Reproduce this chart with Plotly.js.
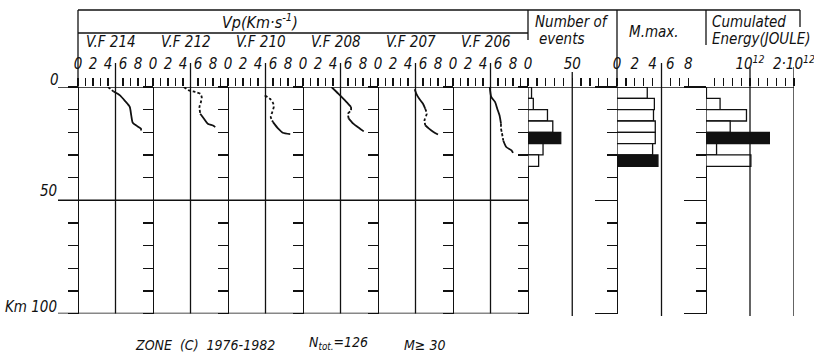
<!DOCTYPE html>
<html><head><meta charset="utf-8">
<script src="https://cdn.plot.ly/plotly-3.0.1.min.js"></script>
<style>html,body{margin:0;padding:0;background:#fff}#chart{width:814px;height:357px}</style>
</head><body><div id="chart"></div>
<script>
// ---------- DATA ----------
const stations = ['V.F 214','V.F 212','V.F 210','V.F 208','V.F 207','V.F 206'];
// Vp (km/s) against depth (km); dash flag per segment (1 = dashed)
const vf214_v = [4.0, 4.7, 5.6, 6.3, 6.9, 7.1, 7.3, 7.9, 8.4, 8.4];
const vf214_d = [0, 1.9, 3.7, 6.3, 8.8, 12.5, 15.8, 17.3, 18.4, 19.2];
const vf214_dash = [1, 0, 0, 0, 0, 0, 0, 0, 0];
const vf212_v = [4.1, 4.8, 5.6, 6.3, 6.5, 6.4, 6.2, 6.3, 6.8, 7.3, 8.0, 8.3];
const vf212_d = [0, 1.5, 2.2, 3.0, 4.5, 6.5, 8.8, 11.8, 14.0, 16.2, 17.0, 17.7];
const vf212_dash = [1, 1, 1, 1, 1, 1, 1, 0, 0, 0, 0];
const vf210_v = [4.9, 5.6, 6.0, 6.1, 5.9, 5.7, 6.0, 6.7, 7.3, 8.3];
const vf210_d = [3.7, 5.2, 7.0, 8.8, 11.1, 13.3, 15.5, 18.4, 20.2, 20.8];
const vf210_dash = [1, 1, 1, 1, 1, 1, 0, 0, 0];
const vf208_v = [3.8, 4.7, 5.6, 6.4, 6.4, 6.0, 6.1, 6.7, 7.6, 8.1];
const vf208_d = [0, 2.9, 5.9, 8.8, 10.3, 11.8, 14.0, 16.2, 18.4, 19.6];
const vf208_dash = [0, 0, 0, 1, 1, 1, 0, 0, 0];
const vf207_v = [4.9, 5.1, 5.5, 6.0, 6.3, 6.5, 6.2, 6.3, 6.8, 7.4, 8.0];
const vf207_d = [1.0, 2.9, 5.2, 7.4, 9.6, 11.8, 14.7, 16.9, 18.4, 19.9, 21.0];
const vf207_dash = [0, 0, 0, 0, 1, 1, 1, 0, 0, 0];
const vf206_v = [4.9, 5.1, 5.6, 5.9, 6.2, 6.4, 6.4, 6.5, 6.7, 7.1, 7.8, 8.0];
const vf206_d = [0, 4.4, 6.6, 9.6, 12.5, 16.2, 18.4, 19.9, 23.6, 26.5, 28.0, 29.1];
const vf206_dash = [0, 0, 0, 0, 0, 1, 1, 1, 0, 0, 0];

// histograms per 5 km depth bin
const binTop = [0, 5, 10, 15, 20, 25, 30];
const binWidth = 5;
const events = [4, 6, 22, 28, 37, 17, 12];
const mMax = [3.4, 4.2, 4.1, 4.3, 4.3, 4.0, 4.6];
const energy = [0.01e12, 0.32e12, 0.92e12, 0.55e12, 1.44e12, 0.24e12, 1.02e12];

// tick labels
const vpTicks = [0, 2, 4, 6, 8];
const vpMinor = [1, 3, 5, 7, 9];
const evTicks = [0, 50];
const evMinor = [10, 20, 30, 40, 60, 70, 80, 90];
const mTicks = [0, 2, 4, 6, 8];
const mMinor = [1, 3, 7];
const eTicks = [1e12, 2e12];
const eTickText = ['10<sup>12</sup>', '2·10<sup>12</sup>'];
const eMinor = [0.2e12, 0.4e12, 0.6e12, 0.8e12, 1.2e12, 1.4e12, 1.6e12, 1.8e12];

// ---------- LAYOUT GEOMETRY ----------
const W = 814, H = 357;
const px = x => x / W, py = y => 1 - y / H;
const colX = [78, 153, 228, 303, 378, 453], colW = 75;
const evDom = [528, 616.5], mDom = [617, 706], eDom = [706, 794];
const yTop = 87, yBot = 313.5;
const INK = '#111';
const FONT = '"Liberation Sans Narrow", "DejaVu Sans Condensed", "Liberation Sans", Arial, sans-serif';

const profiles = [
  [vf214_v, vf214_d, vf214_dash], [vf212_v, vf212_d, vf212_dash], [vf210_v, vf210_d, vf210_dash],
  [vf208_v, vf208_d, vf208_dash], [vf207_v, vf207_d, vf207_dash], [vf206_v, vf206_d, vf206_dash]
];

const traces = [];
const ax = i => (i === 0 ? 'x' : 'x' + (i + 1));
profiles.forEach(([v, d, dash], i) => {
  let s = 0;
  while (s < dash.length) {
    let e = s;
    while (e + 1 < dash.length && dash[e + 1] === dash[s]) e++;
    traces.push({
      type: 'scatter', mode: 'lines', x: v.slice(s, e + 2), y: d.slice(s, e + 2),
      xaxis: ax(i), yaxis: 'y', hoverinfo: 'skip',
      line: {color: INK, width: 1.8, dash: dash[s] ? '3px,2px' : 'solid', shape: 'spline', smoothing: 0.6}
    });
    s = e + 1;
  }
});

const centers = binTop.map(t => t + binWidth / 2);
function hist(vals, xa) {
  const mx = Math.max(...vals);
  return {
    type: 'bar', orientation: 'h', x: vals, y: centers, width: binWidth, base: 0,
    xaxis: xa, yaxis: 'y', hoverinfo: 'skip',
    marker: {color: vals.map(v => v === mx ? INK : '#fff'), line: {color: INK, width: 1.3}}
  };
}
traces.push(hist(events, 'x7'), hist(mMax, 'x8'), hist(energy, 'x9'));

// empty traces that attach the extra tick axes
for (let k = 2; k <= 9; k++) traces.push({type: 'scatter', x: [], y: [], xaxis: 'x', yaxis: 'y' + k, hoverinfo: 'skip'});

const layout = {
  width: W, height: H, margin: {l: 0, r: 0, t: 0, b: 0},
  paper_bgcolor: '#fff', plot_bgcolor: 'rgba(0,0,0,0)', showlegend: false,
  bargap: 0, barmode: 'overlay',
  font: {family: FONT, color: INK, size: 15},
  shapes: [], annotations: []
};

const tickFont = {family: FONT, size: 15, color: INK, style: 'italic'};
function xAxis(dom, range, tv, tt, minor) {
  return {
    domain: [px(dom[0]), px(dom[1])], range: range, anchor: 'y', side: 'top',
    showline: false, showgrid: false, zeroline: false, fixedrange: true,
    tickmode: 'array', tickvals: tv, ticktext: tt, ticks: 'outside', ticklen: 8,
    tickwidth: 1.4, tickcolor: INK, tickfont: tickFont, ticklabelstandoff: 3,
    ticklabeloverflow: 'allow',
    minor: {tickmode: 'array', tickvals: minor, ticks: 'outside', ticklen: 8, tickwidth: 1.4, tickcolor: INK, showgrid: false}
  };
}
colX.forEach((x0, i) => {
  layout[i === 0 ? 'xaxis' : 'xaxis' + (i + 1)] = xAxis([x0, x0 + colW], [0, 10], vpTicks, vpTicks.map(String), vpMinor);
});
layout.xaxis7 = xAxis(evDom, [0, 100], evTicks, evTicks.map(String), evMinor);
layout.xaxis8 = xAxis(mDom, [0, 10], mTicks, mTicks.map(String), mMinor);
layout.xaxis9 = xAxis(eDom, [0, 2.0001e12], eTicks, eTickText, eMinor);

const yPos = [78, 153, 228, 303, 378, 453, 528, 617, 706];
yPos.forEach((p, k) => {
  const long = k >= 7;
  const a = {
    range: [100, 0], anchor: 'free', position: px(p), side: 'left',
    showline: true, linecolor: INK, linewidth: 1.3, showgrid: false, zeroline: false,
    showticklabels: false, fixedrange: true, ticks: 'outside', tickcolor: INK, tickwidth: 1.3,
    tickmode: 'linear', tick0: 0, dtick: long ? 50 : 10, ticklen: long ? 22 : 10
  };
  if (long) a.minor = {tick0: 0, dtick: 10, ticks: 'outside', ticklen: 10, tickwidth: 1.3, tickcolor: INK};
  if (k === 0) a.domain = [py(yBot), py(yTop)]; else a.overlaying = 'y';
  layout[k === 0 ? 'yaxis' : 'yaxis' + (k + 1)] = a;
});

// frame lines
const L = (x0, y0, x1, y1) => layout.shapes.push({type: 'line', xref: 'paper', yref: 'paper',
  x0: px(x0), y0: py(y0), x1: px(x1), y1: py(y1), line: {color: INK, width: 1.3}});
const LX = (xa, xv, y0, y1) => layout.shapes.push({type: 'line', xref: xa, yref: 'paper',
  x0: xv, x1: xv, y0: py(y0), y1: py(y1), line: {color: INK, width: 1.3}});
const LY = (yv, x0, x1) => layout.shapes.push({type: 'line', xref: 'paper', yref: 'y',
  x0: px(x0), x1: px(x1), y0: yv, y1: yv, line: {color: INK, width: 1.4}});

L(78, 10, 800, 10); L(800, 10, 800, 27); L(78, 33, 528, 33);
L(78, 10, 78, 87);
[153, 228, 303, 378, 453].forEach(x => L(x, 33, 48));
L(528, 10, 528, 40); L(617, 10, 617, 87); L(706, 10, 706, 45);
colX.forEach((x0, i) => LX(ax(i), 5, 63, yBot));
LX('x7', 50, 72, 316); LX('x8', 5, 63, 316); LX('x9', 1e12, 67, 316); LX('x9', 2e12, 67, 316);
LY(0, 58, 794); LY(50, 58, 528); LY(100, 58, 528);

// texts
const A = (text, x, y, xanchor, size) => layout.annotations.push({text: text, xref: 'paper', yref: 'paper',
  x: px(x), y: py(y), xanchor: xanchor, yanchor: 'middle', showarrow: false,
  font: {family: FONT, size: size || 15, color: INK, style: 'italic'}});
A('Vp(Km·s<sup>-1</sup>)', 260, 21, 'center', 16);
stations.forEach((s, i) => A(s, colX[i] + 33, 42, 'center', 15));
A('Number of', 533, 22, 'left', 15);
A('events', 537, 39, 'left', 15);
A('M.max.', 627, 32, 'left', 15);
A('Cumulated', 710, 22, 'left', 15);
A('Energy(JOULE)', 710, 39, 'left', 15);
A('0', 61, 80, 'right', 15);
A('50', 59, 191, 'right', 15);
A('Km 100', 59, 307, 'right', 15);
A('ZONE  (C)  1976-1982', 133, 345, 'left', 14);
A('N<sub>tot.</sub>=126', 307, 343, 'left', 14);
A('M≥ 30', 402, 345, 'left', 14);

Plotly.newPlot('chart', traces, layout, {staticPlot: true, displayModeBar: false});
</script></body></html>
